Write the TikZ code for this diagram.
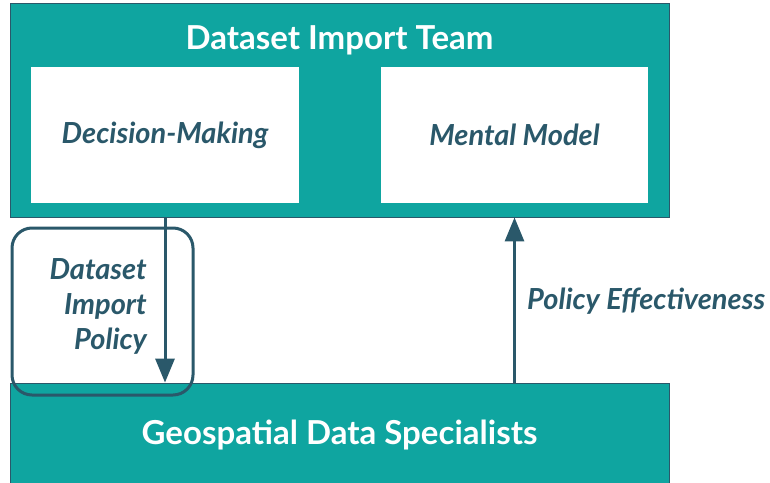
\documentclass[tikz,border=0pt]{standalone}
\usepackage{fontspec}
\setmainfont{Lato}
\usepackage{tikz}
\usetikzlibrary{arrows.meta,positioning}
\definecolor{figteal}{RGB}{15,165,160}
\definecolor{figline}{RGB}{42,88,106}
\tikzset{
  tbox/.style ={fill=figteal, draw=figline, line width=0.8pt, inner sep=0pt},
  wbox/.style ={fill=white, inner sep=0pt, minimum width=268pt, minimum height=136pt},
  ttl/.style  ={font=\fontsize{33}{40}\selectfont\bfseries, text=white, inner sep=0pt},
  lab/.style  ={font=\fontsize{29}{35}\selectfont\bfseries\itshape, text=figline, inner sep=0pt},
  ptr/.style  ={draw=figline, line width=3pt, -{Triangle[length=24pt,width=19pt]}},
  pol/.style  ={draw=figline, line width=3pt, rounded corners=20pt, inner sep=0pt},
}
\begin{document}
\begin{tikzpicture}[x=1pt,y=-1pt]
  \useasboundingbox (0,0) rectangle (770,482);
  % team box
  \node[tbox, minimum width=659pt, minimum height=214pt] (team) at (339.5,110) {};
  \node[ttl] (teamlab) at (339.5,40) {Dataset Import Team};
  \node[wbox, lab] (dec) at (165,135) {Decision-Making};
  \node[wbox, lab, minimum width=267pt] (ment) at (514.5,135) {Mental Model};
  % specialists box
  \node[tbox, minimum width=659pt, minimum height=110pt] (spec) at (339.5,438) {};
  \node[ttl] (speclab) at (339.5,435) {Geospatial Data Specialists};
  % policy
  \node[pol, minimum width=181pt, minimum height=167pt] (polbox) at (102.5,311.5) {};
  \node[lab, align=right, anchor=east] (pollab) at (147,306) {Dataset\\Import\\Policy};
  \draw[ptr] (team.south -| dec.south) -- (spec.north -| dec.south);
  % feedback
  \draw[ptr] (spec.north -| ment.south) -- (team.south -| ment.south);
  \node[lab, anchor=west] (efflab) at (527,301) {Policy Effectiveness};
\end{tikzpicture}
\end{document}
